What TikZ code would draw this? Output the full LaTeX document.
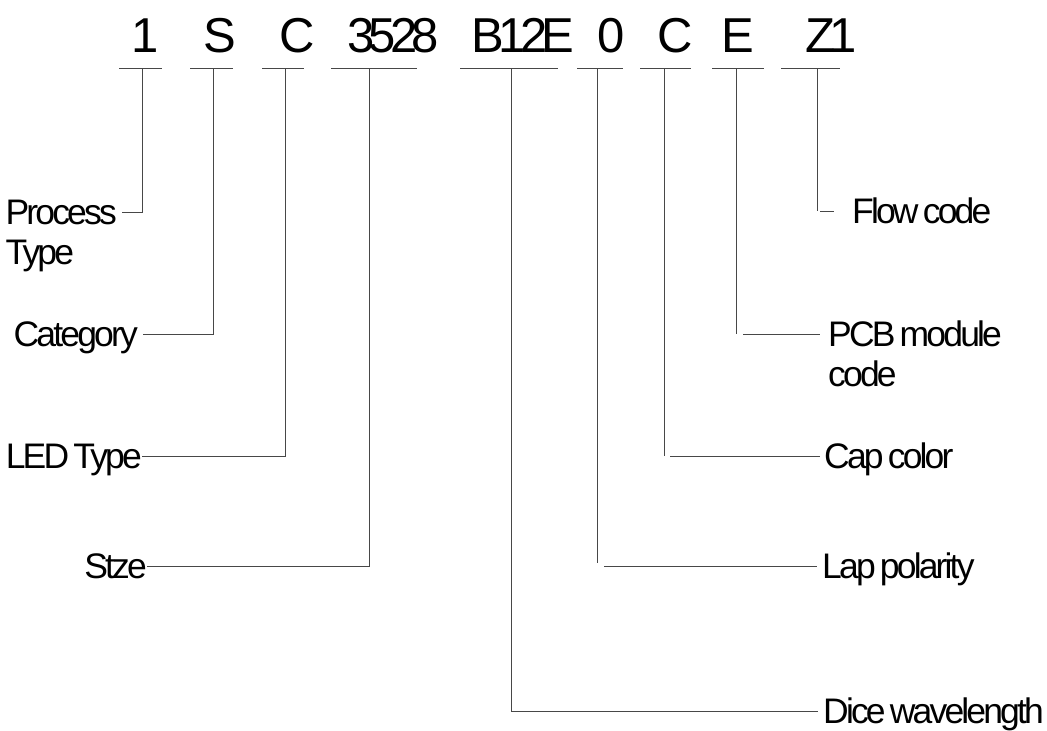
\documentclass[tikz,border=0pt]{standalone}
\usepackage{fontspec}
\setmainfont{Liberation Sans}
\newfontfamily\topfont[LetterSpace=-12]{Liberation Sans}
\newfontfamily\lblfont[LetterSpace=-8,WordSpace=0.6]{Liberation Sans}
\begin{document}
\begin{tikzpicture}[x=1pt,y=-1pt,
  ln/.style={line width=0.9pt, draw=black!72},
  code/.style={font=\topfont\fontsize{49}{52}\selectfont, inner sep=0pt, anchor=base},
  lbl/.style={font=\lblfont\fontsize{35.5}{40}\selectfont, inner sep=0pt, text height=25.4pt, text depth=0pt}
]
\useasboundingbox (0,0) rectangle (1047,731);

% code characters
\node[code] (t1) at (145,52) {1};
\node[code] (t2) at (220,52) {S};
\node[code] (t3) at (297,52) {C};
\node[code] (t4) at (393,52) {3528};
\node[code] (t5) at (523,52) {B12E};
\node[code] (t6) at (611,52) {0};
\node[code] (t7) at (675,52) {C};
\node[code] (t8) at (738,52) {E};
\node[code] (t9) at (831,52) {Z1};

% underline coordinates
\coordinate (a1) at (119,68); \coordinate (b1) at (162,68); \coordinate (u1) at (142,68);
\coordinate (a2) at (190,68); \coordinate (b2) at (233,68); \coordinate (u2) at (213,68);
\coordinate (a3) at (262,68); \coordinate (b3) at (304,68); \coordinate (u3) at (285,68);
\coordinate (a4) at (331,68); \coordinate (b4) at (417,68); \coordinate (u4) at (369,68);
\coordinate (a5) at (460,68); \coordinate (b5) at (558,68); \coordinate (u5) at (511,68);
\coordinate (a6) at (577,68); \coordinate (b6) at (623,68); \coordinate (u6) at (597,68);
\coordinate (a7) at (640,68); \coordinate (b7) at (691,68); \coordinate (u7) at (664,68);
\coordinate (a8) at (712,68); \coordinate (b8) at (764,68); \coordinate (u8) at (736,68);
\coordinate (a9) at (781,68); \coordinate (b9) at (840,68); \coordinate (u9) at (817,68);

\foreach \i in {1,...,9} { \draw[ln] (a\i) -- (b\i); }

% left labels
\node[lbl, anchor=east] (l1) at (117,212) {Process};
\node[lbl, anchor=base west] (l1b) at ([yshift=-40pt]l1.base west) {Type};
\node[lbl, anchor=east] (l2) at (138,334) {Category};
\node[lbl, anchor=east] (l3) at (142,456) {LED Type};
\node[lbl, anchor=east] (l4) at (147,566) {Stze};

% right labels
\node[lbl, anchor=west] (l5) at (823,711) {Dice wavelength};
\node[lbl, anchor=west] (l6) at (822,566) {Lap polarity};
\node[lbl, anchor=west] (l7) at (824,456) {Cap color};
\node[lbl, anchor=west] (l8) at (828,334) {PCB module};
\node[lbl, anchor=base west] (l8b) at ([yshift=-40pt]l8.base west) {code};
\node[lbl, anchor=west] (l9) at (852,211) {Flow code};

% left connectors
\draw[ln] (u1) |- ([xshift=5pt]l1.east);
\draw[ln] (u2) |- ([xshift=5pt]l2.east);
\draw[ln] (u3) |- (l3.east);
\draw[ln] (u4) |- (l4.east);

% right connectors
\draw[ln] (u5) |- ([xshift=-5pt]l5.west);

\coordinate (c6) at (597,563);
\draw[ln] (u6) -- (c6);
\draw[ln] ([xshift=7pt]c6 |- l6.west) -- ([xshift=-5pt]l6.west);

\coordinate (c7) at (664,456);
\draw[ln] (u7) -- (c7);
\draw[ln] ([xshift=6pt]c7) -- ([xshift=-4pt]l7.west);

\coordinate (c8) at (736,334);
\draw[ln] (u8) -- (c8);
\draw[ln] ([xshift=7pt]c8) -- ([xshift=-8pt]l8.west);

\coordinate (c9) at (817,211);
\draw[ln] (u9) -- (c9);
\draw[ln] ([xshift=3pt]c9) -- ([xshift=-18pt]l9.west);
\end{tikzpicture}
\end{document}
